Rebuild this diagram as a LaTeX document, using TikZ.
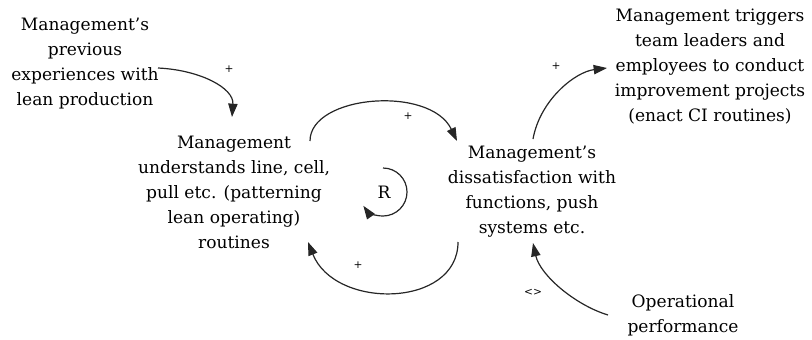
\documentclass[tikz,border=0pt]{standalone}
\usepackage{fontspec}
\setmainfont{DejaVu Serif}
\usetikzlibrary{arrows.meta}
\begin{document}
\begin{tikzpicture}[x=0.75pt,y=-0.75pt,
  concept/.style={align=center,inner sep=2pt,text=black,
    font=\fontsize{12.8}{18.75}\selectfont},
  link/.style={draw=black!85,line width=0.9pt,
    -{Triangle[length=10pt,width=7pt]}},
  polarity/.style={font=\fontsize{8}{9}\selectfont,inner sep=0pt}]
\useasboundingbox (0,0) rectangle (812,339);

% variables
\node[concept] (A) at (85,64) {Management’s\\previous\\experiences with\\lean production};
\node[concept] (B) at (234,192) {Management\\understands line, cell,\\pull etc. (patterning\\lean operating)\\routines};
\node[concept] (C) at (532,192) {Management’s\\dissatisfaction with\\functions, push\\systems etc.};
\node[concept] (D) at (710,67) {Management triggers\\team leaders and\\employees to conduct\\improvement projects\\(enact CI routines)};
\node[concept] (E) at (683,315) {Operational\\performance};
\node[concept] (R) at (384,192) {R};

% causal links
\draw[link] ([shift={(73,4)}]A.center) .. controls (200,70) and (234,88) .. ([shift={(-2,-75)}]B.center);
\draw[link] ([shift={(76,-51)}]B.center) .. controls (310,95) and (430,85) .. ([shift={(-75,-51)}]C.center);
\draw[link] ([shift={(-74,50)}]C.center) .. controls (458,308) and (335,310) .. ([shift={(74,50)}]B.center);
\draw[link] ([shift={(1,-53)}]C.center) .. controls (540,100) and (575,72) .. ([shift={(-103,1)}]D.center);
\draw[link] ([shift={(-75,0)}]E.center) .. controls (575,305) and (540,275) .. ([shift={(1,51)}]C.center);

% loop marker
\draw[link] ([shift={(-1,-24)}]R.center) arc[start angle=90,end angle=-145,radius=18pt];

% polarities
\node[polarity] (p1) at (229,69) {+};
\node[polarity] (p2) at (408,116) {+};
\node[polarity] (p3) at (358,265) {+};
\node[polarity] (p4) at (556,66) {+};
\node[polarity] (p5) at (533,292) {<>};
\end{tikzpicture}
\end{document}
